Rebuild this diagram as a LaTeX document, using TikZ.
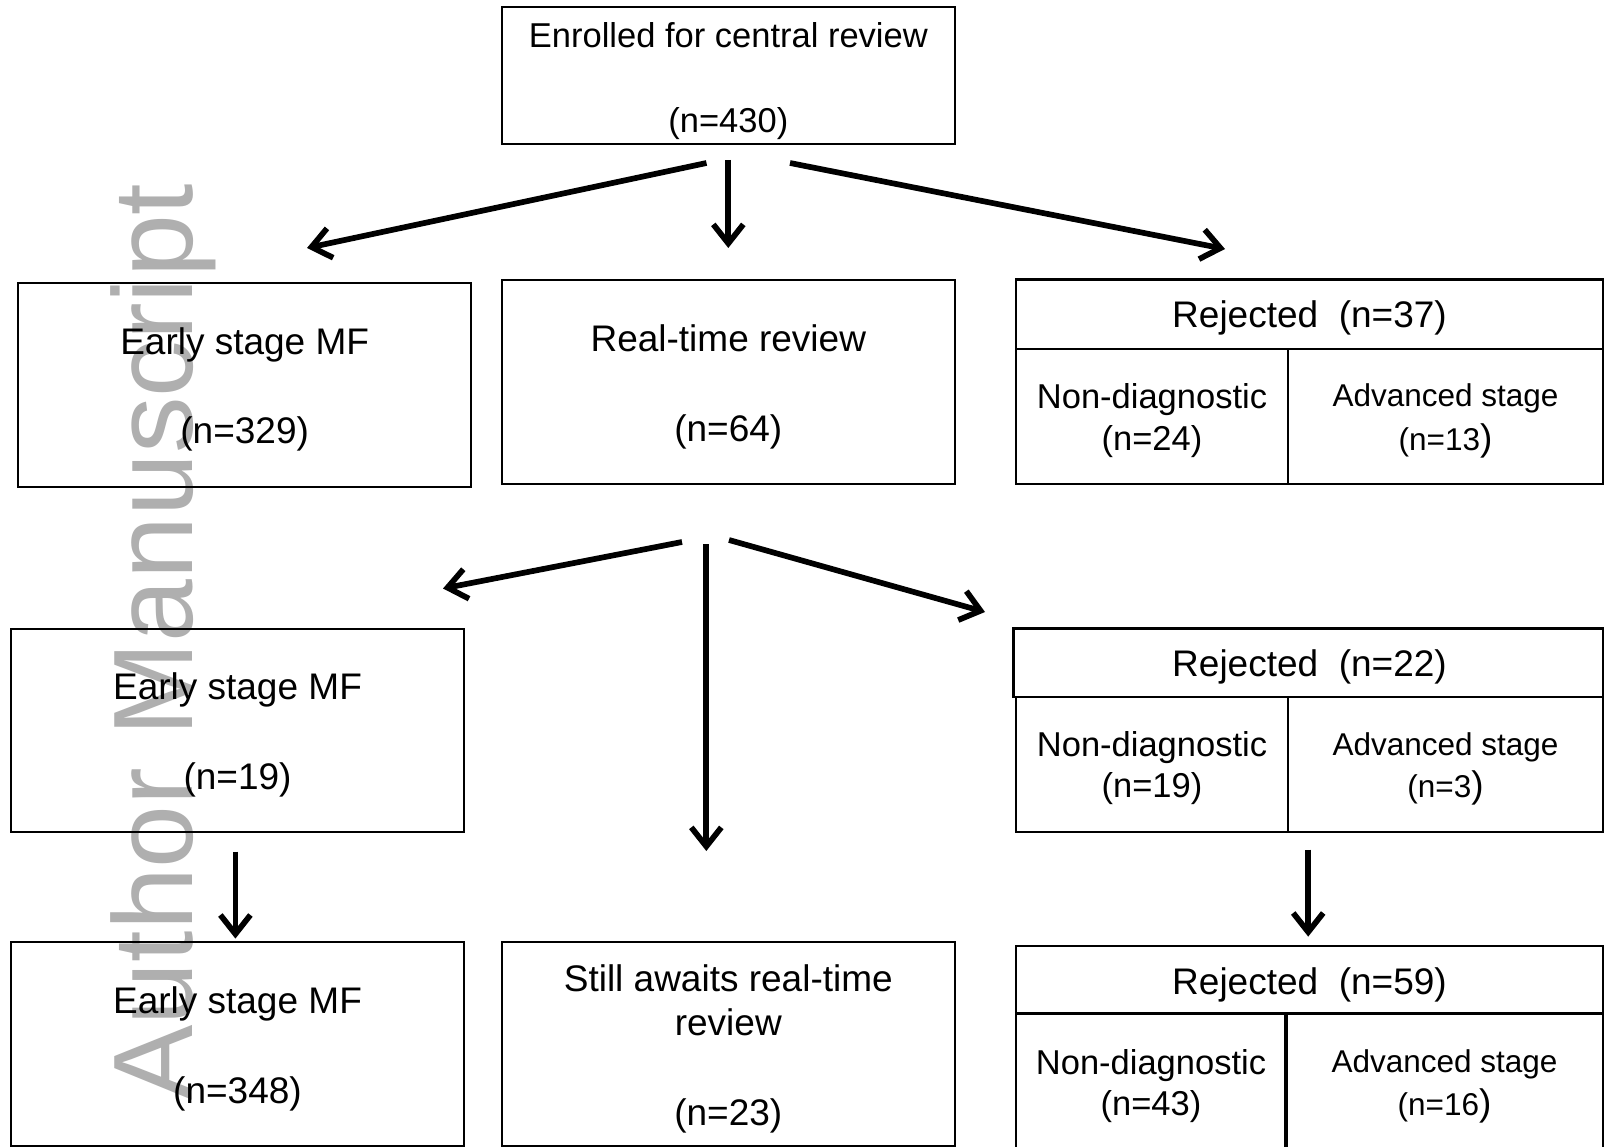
\documentclass[tikz,border=0pt]{standalone}
\usepackage{fontspec}
\setmainfont{Liberation Sans}
\usetikzlibrary{arrows.meta}
\definecolor{wmgray}{RGB}{175,175,175}
\begin{document}
\begin{tikzpicture}[x=1pt,y=-1pt,
  box/.style={draw=black, line width=2pt, inner sep=0pt, outer sep=0pt, rectangle},
  cell/.style={draw=black, line width=2.4pt, inner sep=0pt, outer sep=0pt, rectangle},
  lab/.style={anchor=base, inner sep=0pt, outer sep=0pt, font=\fontsize{37}{44}\selectfont},
  labtop/.style={lab, font=\fontsize{34.5}{40}\selectfont},
  labmid/.style={lab, font=\fontsize{34.5}{40}\selectfont},
  labsm/.style={lab, font=\fontsize{31.5}{38}\selectfont},
  arr/.style={line width=5.7pt, -{Straight Barb[length=19pt,width=30pt]}}
]
\useasboundingbox (0,0) rectangle (1605,1147);
\fill[white] (0,0) rectangle (1605,1147);

% watermark
\node[rotate=90, anchor=base, inner sep=0pt, text=wmgray, font=\fontsize{113}{113}\selectfont] (wm) at (192,642) {Author Manuscript};

% top box
\node[box, minimum width=453.3pt, minimum height=136.5pt] (T) at (728.35,75.75) {};
\node[labtop] (T1) at (728.35,47.5) {Enrolled for central review};
\node[labtop] (T2) at (728.35,132.5) {(n=430)};

% row 2
\node[box, minimum width=452.5pt, minimum height=203.5pt] (A) at (244.65,385.25) {};
\node[lab] (A1) at (244.65,354) {Early stage MF};
\node[lab] (A2) at (244.65,443.5) {(n=329)};

\node[box, minimum width=453.4pt, minimum height=203.5pt] (B) at (728.3,382.25) {};
\node[lab] (B1) at (728.3,351) {Real-time review};
\node[lab] (B2) at (728.3,441) {(n=64)};

\node[cell, minimum width=587pt, minimum height=69.6pt] (Ch) at (1309.5,314.2) {};
\node[cell, minimum width=272pt, minimum height=135pt] (Cl) at (1152,416.5) {};
\node[cell, minimum width=315pt, minimum height=135pt] (Cr) at (1445.5,416.5) {};
\node[lab] (C0) at (1309.5,327.5) {Rejected\ \ (n=37)};
\node[labmid] (C1) at (1152,408) {Non-diagnostic};
\node[labmid] (C2) at (1152,450) {(n=24)};
\node[labsm] (C3) at (1445.5,406) {Advanced stage};
\node[labsm] (C4) at (1445.5,450) {(n=13{\fontsize{37}{44}\selectfont )}};

% row 3
\node[box, minimum width=452.4pt, minimum height=203.7pt] (D) at (237.5,730.35) {};
\node[lab] (D1) at (237.5,699) {Early stage MF};
\node[lab] (D2) at (237.5,789) {(n=19)};

\node[cell, minimum width=589.6pt, minimum height=68.5pt] (Eh) at (1308.2,662.75) {};
\node[cell, minimum width=272pt, minimum height=135.2pt] (El) at (1152,764.6) {};
\node[cell, minimum width=315pt, minimum height=135.2pt] (Er) at (1445.5,764.6) {};
\node[lab] (E0) at (1309.5,676) {Rejected\ \ (n=22)};
\node[labmid] (E1) at (1152,756) {Non-diagnostic};
\node[labmid] (E2) at (1152,797) {(n=19)};
\node[labsm] (E3) at (1445.5,755) {Advanced stage};
\node[labsm] (E4) at (1445.5,797) {(n=3{\fontsize{37}{44}\selectfont )}};

% row 4
\node[box, minimum width=452.4pt, minimum height=203.8pt] (F) at (237.5,1043.6) {};
\node[lab] (F1) at (237.5,1013) {Early stage MF};
\node[lab] (F2) at (237.5,1103) {(n=348)};

\node[box, minimum width=453.4pt, minimum height=203.8pt] (H) at (728.3,1043.6) {};
\node[lab] (H1) at (728.3,991) {Still awaits real-time};
\node[lab] (H2) at (728.3,1035) {review};
\node[lab] (H3) at (728.3,1125) {(n=23)};

\node[cell, minimum width=587pt, minimum height=67.5pt] (Gh) at (1309.5,979.75) {};
\node[cell, minimum width=270pt, minimum height=156.5pt] (Gl) at (1151,1091.75) {};
\node[cell, minimum width=317pt, minimum height=156.5pt] (Gr) at (1444.5,1091.75) {};
\draw[line width=4pt] (Gl.north east) -- (Gl.south east);
\node[lab] (G0) at (1309.5,994) {Rejected\ \ (n=59)};
\node[labmid] (G1) at (1151,1074.5) {Non-diagnostic};
\node[labmid] (G2) at (1151,1115.5) {(n=43)};
\node[labsm] (G3) at (1444.5,1072.5) {Advanced stage};
\node[labsm] (G4) at (1444.5,1115.5) {(n=16{\fontsize{37}{44}\selectfont )}};

% arrow end points
\coordinate (ts1) at (706.5,163);
\coordinate (te1) at (307,248);
\coordinate (ts2) at (728.3,160);
\coordinate (te2) at (728.3,248);
\coordinate (ts3) at (790,163);
\coordinate (te3) at (1225,249);
\coordinate (bs1) at (682,542);
\coordinate (be1) at (443,588.5);
\coordinate (bs2) at (706.3,544);
\coordinate (be2) at (706.3,851);
\coordinate (bs3) at (729,540);
\coordinate (be3) at (985,612);
\coordinate (ds) at (235.4,851.6);
\coordinate (de) at (235.4,938.6);
\coordinate (es) at (1308.2,849.6);
\coordinate (ee) at (1308.2,936.6);

\draw[arr] (ts1) -- (te1);
\draw[arr] (ts2) -- (te2);
\draw[arr] (ts3) -- (te3);
\draw[arr] (bs1) -- (be1);
\draw[arr] (bs2) -- (be2);
\draw[arr] (bs3) -- (be3);
\draw[arr] (ds) -- (de);
\draw[arr] (es) -- (ee);
\end{tikzpicture}
\end{document}
